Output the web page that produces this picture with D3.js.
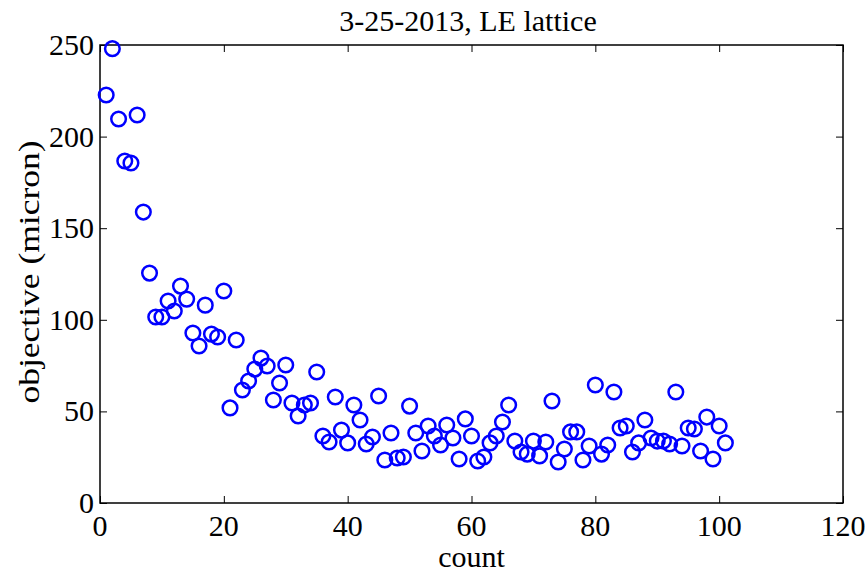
<!DOCTYPE html>
<html>
<head>
<meta charset="utf-8">
<script src="https://cdn.jsdelivr.net/npm/d3@7"></script>
<style>
  body { margin: 0; background: #fff; }
  text { font-family: "Liberation Serif", "Times New Roman", serif; fill: #000; }
</style>
</head>
<body>
<svg id="chart" width="867" height="572"></svg>
<script>
// objective per count
var counts = d3.range(1, 102);
var objective = [
  222.7, 248.0, 209.6, 186.7, 185.6, 211.8, 158.8, 125.5, 101.5, 101.5,
  110.3, 104.8, 118.4, 111.3, 92.8, 85.7, 108.0, 92.2, 90.6, 115.7,
  51.9, 89.0, 61.7, 66.6, 73.1, 79.1, 74.8, 56.2, 65.5, 75.3,
  54.6, 47.5, 53.5, 54.6, 71.5, 36.6, 33.3, 57.9, 39.8, 32.8,
  53.5, 45.3, 32.2, 36.0, 58.4, 23.5, 38.2, 24.6, 25.1, 52.9,
  38.2, 28.4, 42.0, 36.6, 31.7, 42.6, 35.5, 24.0, 45.9, 36.6,
  22.9, 25.1, 32.8, 36.6, 44.2, 53.5, 33.8, 27.8, 26.7, 33.8,
  25.7, 33.3, 55.7, 22.4, 29.5, 38.8, 38.8, 23.5, 31.1, 64.4,
  26.7, 31.7, 60.6, 40.9, 42.0, 27.8, 32.8, 45.3, 35.5, 33.8,
  33.8, 32.2, 60.6, 31.1, 40.9, 40.4, 28.4, 46.9, 24.0, 42.0,
  32.8
];
var xTicks = [0, 20, 40, 60, 80, 100, 120];
var yTicks = [0, 50, 100, 150, 200, 250];
var titleText = "3-25-2013, LE lattice";
var xLabel = "count";
var yLabel = "objective (micron)";

var margin = {top: 45, right: 24, bottom: 69, left: 100};
var svg = d3.select("#chart");
var W = 867, H = 572;
var w = W - margin.left - margin.right, h = H - margin.top - margin.bottom;
var fs = 30;

var x = d3.scaleLinear().domain([0, 120]).range([0, w]);
var y = d3.scaleLinear().domain([0, 250]).range([h, 0]);

var g = svg.append("g").attr("transform", "translate(" + margin.left + "," + margin.top + ")");

// ticks, pointing inward on all four sides
var tl = 7;
g.append("g").call(d3.axisBottom(x).tickValues(xTicks).tickSize(-tl).tickFormat(""))
  .attr("transform", "translate(0," + h + ")");
g.append("g").call(d3.axisTop(x).tickValues(xTicks).tickSize(-tl).tickFormat(""));
g.append("g").call(d3.axisLeft(y).tickValues(yTicks).tickSize(-tl).tickFormat(""));
g.append("g").call(d3.axisRight(y).tickValues(yTicks).tickSize(-tl).tickFormat(""))
  .attr("transform", "translate(" + w + ",0)");
g.selectAll(".domain").remove();
g.selectAll(".tick line").attr("stroke", "#000").attr("stroke-width", 1);

// box
g.append("rect").attr("width", w).attr("height", h)
  .attr("fill", "none").attr("stroke", "#000").attr("stroke-width", 1.5);

function label(px, py, str, anchor) {
  return svg.append("text")
    .attr("transform", "translate(" + px + "," + py + ")")
    .attr("text-anchor", anchor)
    .attr("font-size", fs)
    .text(str);
}

xTicks.forEach(function(t) {
  label(margin.left + x(t), margin.top + h + 33, t, "middle");
});
yTicks.forEach(function(t) {
  label(margin.left - 6, margin.top + y(t) + 10, t, "end");
});

label(468, 31, titleText, "middle");
label(margin.left + w / 2, 567, xLabel, "middle");

// y label is larger along its length but squeezed across
svg.append("text")
  .attr("transform", "translate(39," + (margin.top + h / 2 - 2) + ") rotate(-90) scale(1,0.85)")
  .attr("text-anchor", "middle")
  .attr("font-size", 35.5)
  .text(yLabel);

// markers
g.selectAll("circle.pt")
  .data(counts.map(function(c, i) { return {c: c, v: objective[i]}; }))
  .enter().append("circle")
  .attr("class", "pt")
  .attr("cx", function(d) { return x(d.c); })
  .attr("cy", function(d) { return y(d.v); })
  .attr("r", 7.3)
  .attr("fill", "none")
  .attr("stroke", "#0000ff")
  .attr("stroke-width", 2.5);
</script>
</body>
</html>
